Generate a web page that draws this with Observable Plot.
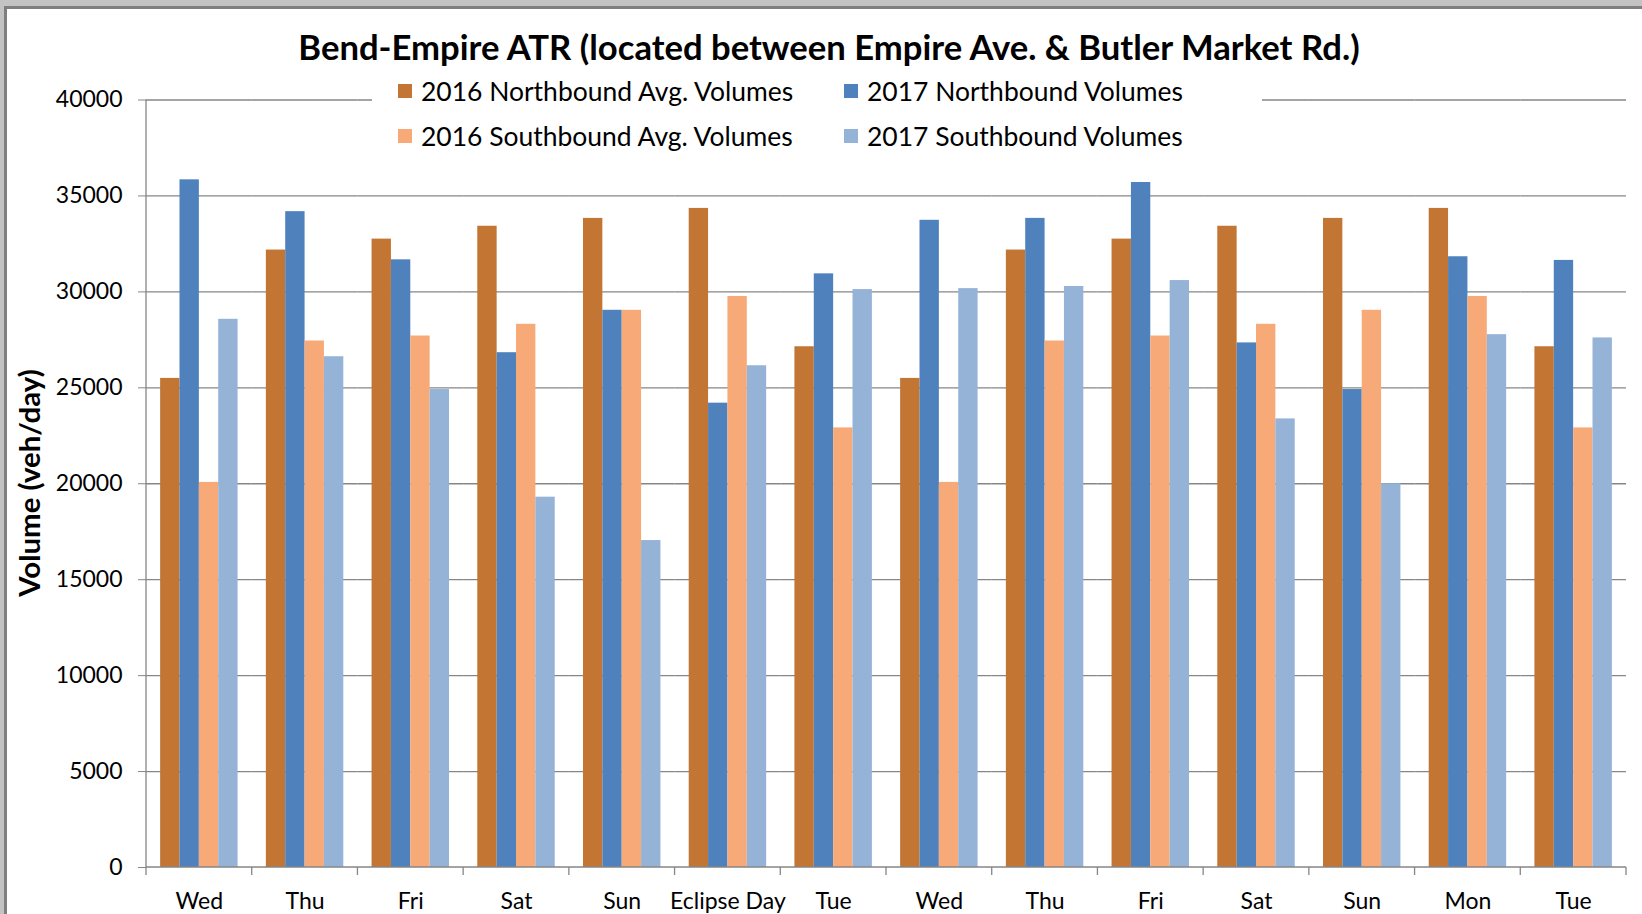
<!DOCTYPE html>
<html>
<head>
<meta charset="utf-8">
<script src="https://cdn.jsdelivr.net/npm/d3@7"></script>
<script src="https://cdn.jsdelivr.net/npm/@observablehq/plot@0.6"></script>
<style>
html, body { margin: 0; padding: 0; background: #fff; }
#wrap { position: relative; width: 1642px; height: 914px; overflow: hidden; background: #fff; font-family: Lato, "Open Sans", sans-serif; color: #000; }
#wrap svg.plot { position: absolute; left: 0; top: 0; }
.abs { position: absolute; white-space: nowrap; display: inline-block; line-height: 1; }
#title { left: 829px; top: 47px; transform: translate(-50%, -50%); font-weight: bold; font-size: 30px; }
#ytitle { left: 29px; top: 483px; transform: translate(-50%, -50%) rotate(-90deg); font-weight: bold; font-size: 24px; }
#legendbox { position: absolute; left: 372px; top: 66px; width: 890px; height: 92px; background: #fff; }
.sw { position: absolute; width: 14px; height: 14px; }
.lt { position: absolute; white-space: nowrap; line-height: 1; font-size: 23px; transform: translateY(-50%); }
.band { position: absolute; }
</style>
</head>
<body>
<div id="wrap"></div>
<script>
// ---- data ----
const categories = ["Wed", "Thu", "Fri", "Sat", "Sun", "Eclipse Day", "Tue", "Wed", "Thu", "Fri", "Sat", "Sun", "Mon", "Tue"];
const seriesNames = ["2016 Northbound Avg. Volumes", "2017 Northbound Volumes", "2016 Southbound Avg. Volumes", "2017 Southbound Volumes"];
const seriesColors = ["#C37534", "#4F81BD", "#F7AA78", "#95B3D7"];
const nb2016 = [25490, 32180, 32750, 33420, 33830, 34350, 27140, 25490, 32180, 32750, 33420, 33830, 34350, 27140];
const nb2017 = [35840, 34180, 31670, 26830, 29040, 24200, 30940, 33730, 33830, 35700, 27340, 24910, 31830, 31640];
const sb2016 = [20070, 27440, 27700, 28310, 29040, 29760, 22910, 20070, 27440, 27700, 28310, 29040, 29760, 22910];
const sb2017 = [28570, 26620, 24910, 19300, 17040, 26150, 30120, 30170, 30280, 30590, 23380, 20000, 27770, 27600];
const yTicks = [0, 5000, 10000, 15000, 20000, 25000, 30000, 35000, 40000];
const titleText = "Bend-Empire ATR (located between Empire Ave. & Butler Market Rd.)";
const yTitleText = "Volume (veh/day)";

const seriesValues = [nb2016, nb2017, sb2016, sb2017];
const table = categories.flatMap((c, i) => seriesNames.map((s, j) => ({idx: i, series: s, value: seriesValues[j][i]})));

const gridColor = "#868686";

const chart = Plot.plot({
  width: 1642,
  height: 914,
  marginLeft: 146,
  marginRight: 16,
  marginTop: 99.5,
  marginBottom: 47,
  style: {fontFamily: "Lato, 'Open Sans', sans-serif", fontSize: "23px", color: "#000", background: "transparent"},
  fx: {domain: d3.range(categories.length), padding: 0, round: false, label: null},
  x: {domain: seriesNames, paddingInner: 0, paddingOuter: 0.73, round: false, axis: null},
  y: {domain: [0, 40000], label: null},
  color: {domain: seriesNames, range: seriesColors},
  marks: [
    Plot.gridY(yTicks.filter(d => d > 0), {stroke: gridColor, strokeOpacity: 1, strokeWidth: 1.3}),
    Plot.barY(table, {fx: "idx", x: "series", y: "value", fill: "series"}),
    Plot.axisY(yTicks, {tickSize: 8, tickPadding: 16, tickFormat: d3.format("d"), stroke: gridColor, fontSize: 23, label: null}),
    Plot.axisFx({anchor: "bottom", tickSize: 0, tickPadding: 25, tickFormat: i => categories[i], fontSize: 23, label: null})
  ]
});

const wrap = document.getElementById("wrap");
chart.classList.add("plot");
wrap.appendChild(chart);

// axis lines and category boundary ticks, positioned through Plot's scales
const fxS = chart.scale("fx"), yS = chart.scale("y");
const svg = d3.select(chart);
const y0 = yS.apply(0), yTop = yS.apply(40000);
const n = categories.length;
const left = fxS.apply(0), right = fxS.apply(n - 1) + fxS.bandwidth;
const g = svg.append("g").attr("stroke", gridColor).attr("stroke-width", 1.3);
g.append("line").attr("x1", left).attr("x2", right).attr("y1", y0).attr("y2", y0);
g.append("line").attr("x1", left).attr("x2", left).attr("y1", yTop).attr("y2", y0);
for (let i = 0; i <= n; i++) {
  const x = i < n ? fxS.apply(i) : right;
  g.append("line").attr("x1", x).attr("x2", x).attr("y1", y0).attr("y2", y0 + 8);
}

// legend
const legendBox = document.createElement("div");
legendBox.id = "legendbox";
wrap.appendChild(legendBox);
const legendPos = [[398, 421, 91], [844, 867, 91], [398, 421, 136], [844, 867, 136]];
const legendOrder = [0, 1, 2, 3];
const legendTexts = [];
legendOrder.forEach((s, k) => {
  const [sx, tx, cy] = legendPos[k];
  const sw = document.createElement("div");
  sw.className = "sw";
  sw.style.left = sx + "px";
  sw.style.top = (cy - 7) + "px";
  sw.style.background = seriesColors[s];
  wrap.appendChild(sw);
  const t = document.createElement("div");
  t.className = "lt";
  t.style.left = tx + "px";
  t.style.top = cy + "px";
  t.textContent = seriesNames[s];
  wrap.appendChild(t);
  legendTexts.push(t);
});

// title and y title
const title = document.createElement("div");
title.id = "title"; title.className = "abs"; title.textContent = titleText;
wrap.appendChild(title);
const ytitle = document.createElement("div");
ytitle.id = "ytitle"; ytitle.className = "abs"; ytitle.textContent = yTitleText;
wrap.appendChild(ytitle);

// frame bands (top and left)
[[0, 0, 1642, 6, "#c3c3c3"], [0, 0, 4, 914, "#c3c3c3"], [4, 6, 1638, 3, "#7f7f7f"], [4, 6, 3, 908, "#7f7f7f"]].forEach(([l, t, w, h, c]) => {
  const d = document.createElement("div");
  d.className = "band";
  Object.assign(d.style, {left: l + "px", top: t + "px", width: w + "px", height: h + "px", background: c});
  wrap.appendChild(d);
});

function fit(el, target) {
  const w = el.offsetWidth;
  const fs = parseFloat(getComputedStyle(el).fontSize);
  if (w > 0) el.style.fontSize = (fs * target / w) + "px";
}
function fitAll() {
  fit(title, 1061);
  fit(ytitle, 228);
  fit(legendTexts[0], 372);
  const fs = legendTexts[0].style.fontSize;
  legendTexts.forEach(t => t.style.fontSize = fs);
}
fitAll();
if (document.fonts && document.fonts.ready) document.fonts.ready.then(fitAll);
</script>
</body>
</html>
